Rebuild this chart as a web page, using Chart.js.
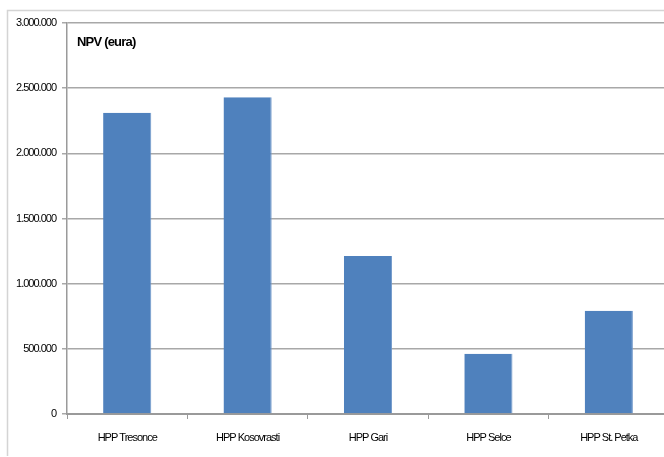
<!DOCTYPE html>
<html>
<head>
<meta charset="utf-8">
<script src="https://cdn.jsdelivr.net/npm/chart.js@4/dist/chart.umd.min.js"></script>
<style>
  html, body { margin: 0; padding: 0; background: #fff; overflow: hidden; }
  #wrap { width: 680px; height: 457px; }
</style>
</head>
<body>
<div id="wrap"><canvas id="c" width="680" height="457"></canvas></div>
<script>
// Net present value per hydro power plant, in euro
const plants = ['HPP Tresonce', 'HPP Kosovrasti', 'HPP Gari', 'HPP Selce', 'HPP St. Petka'];
const npvEuro = [2312000, 2430000, 1213000, 462000, 792000];
const yTicks = [0, 500000, 1000000, 1500000, 2000000, 2500000, 3000000];
const chartTitle = 'NPV (eura)';

const FONT = '"Liberation Sans", Arial, sans-serif';

function dotted(v) {
  return String(v).replace(/\B(?=(\d{3})+(?!\d))/g, '.');
}

// tighter tracking for all axis text (narrow look)
const tracking = {
  id: 'tracking',
  beforeLayout(chart) { chart.ctx.letterSpacing = '-1px'; },
  beforeDraw(chart) { chart.ctx.letterSpacing = '-1px'; }
};

// outer frame and the in-plot heading
const decor = {
  id: 'decor',
  beforeDraw(chart) {
    const ctx = chart.ctx;
    ctx.save();
    ctx.strokeStyle = '#d4d4d4';
    ctx.lineWidth = 1.5;
    ctx.beginPath();
    ctx.moveTo(7.5, 456);
    ctx.lineTo(7.5, 10.5);
    ctx.lineTo(chart.width, 10.5);
    ctx.stroke();
    ctx.restore();
  },
  afterDraw(chart) {
    const ctx = chart.ctx;
    const a = chart.chartArea;
    ctx.save();
    ctx.letterSpacing = '-0.8px';
    ctx.fillStyle = '#000';
    ctx.font = 'bold 13px ' + FONT;
    ctx.textBaseline = 'alphabetic';
    ctx.fillText(chartTitle, a.left + 10, a.top + 23);
    ctx.restore();
  }
};

new Chart(document.getElementById('c'), {
  type: 'bar',
  data: {
    labels: plants,
    datasets: [{
      data: npvEuro,
      backgroundColor: '#4f81bd',
      borderColor: '#6f97c9',
      borderWidth: { right: 1 },
      barPercentage: 0.4,
      categoryPercentage: 1.0
    }]
  },
  options: {
    responsive: false,
    animation: false,
    devicePixelRatio: 1,
    layout: { padding: { left: 0, top: 23, right: 11, bottom: 0 } },
    plugins: { legend: { display: false }, tooltip: { enabled: false }, title: { display: false } },
    scales: {
      x: {
        offset: true,
        grid: { display: true, drawOnChartArea: false, drawTicks: true, tickLength: 5, color: '#9a9a9a', offset: true },
        border: { display: true, color: '#9a9a9a', width: 2 },
        ticks: { color: '#000', font: { family: FONT, size: 11 }, padding: 12, maxRotation: 0 },
        afterFit(scale) { scale.height = 43; }
      },
      y: {
        min: 0,
        max: 3000000,
        afterBuildTicks(scale) { scale.ticks = yTicks.map(v => ({ value: v })); },
        grid: { color: '#a8a8a8', lineWidth: 1.5, tickLength: 5 },
        border: { display: true, color: '#9a9a9a', width: 1.5 },
        ticks: { color: '#000', font: { family: FONT, size: 11 }, padding: 6, callback: v => dotted(v) },
        afterFit(scale) { scale.width = 67; }
      }
    }
  },
  plugins: [tracking, decor]
});
</script>
</body>
</html>
